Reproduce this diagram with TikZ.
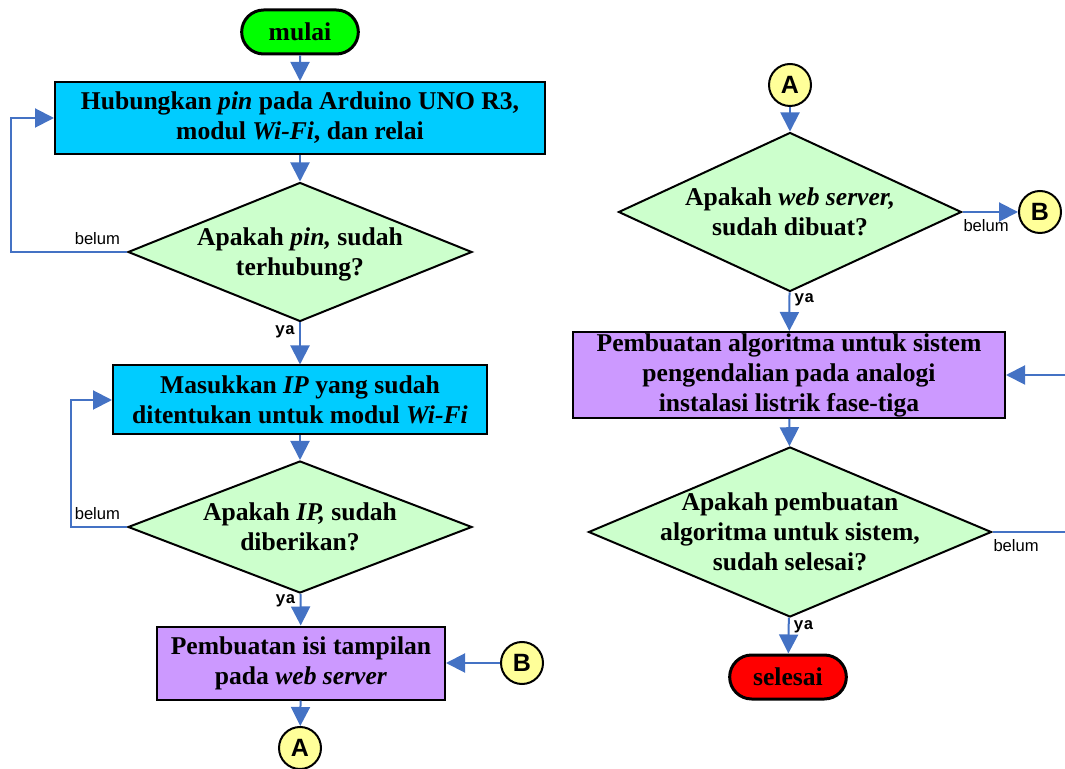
\documentclass[tikz,border=0pt]{standalone}
\usepackage{fontspec}
\setmainfont{Liberation Serif}
\newfontfamily\belumfont{Liberation Sans}
\newfontfamily\yafont{Liberation Mono}
\usepackage{tikz}
\usetikzlibrary{arrows.meta,shapes.geometric,shapes.misc}

\definecolor{mulaigreen}{HTML}{00FF00}
\definecolor{selesaired}{HTML}{FF0000}
\definecolor{boxcyan}{HTML}{00CCFF}
\definecolor{boxpurple}{HTML}{CC99FF}
\definecolor{askgreen}{HTML}{CCFFCC}
\definecolor{linkyellow}{HTML}{FFFF99}
\definecolor{flowblue}{HTML}{4472C4}

\begin{document}
\begin{tikzpicture}[x=0.5pt,y=-0.5pt,
	every node/.style={align=center,font=\fontsize{12.8}{15}\selectfont\bfseries},
	terminal/.style={rounded rectangle,draw,line width=1.5pt,minimum width=65pt,minimum height=22pt},
	process/.style={rectangle,draw,line width=1pt,inner sep=0pt},
	decision/.style={diamond,draw,line width=1pt,fill=askgreen,inner sep=0pt},
	link/.style={circle,draw,line width=1pt,fill=linkyellow,minimum size=21pt,inner sep=0pt,font=\belumfont\bfseries\fontsize{12.5}{12.5}\selectfont},
	flow/.style={draw=flowblue,line width=1pt,-{Triangle[length=9.5pt,width=9.5pt]}},
	yalabel/.style={font=\yafont\bfseries\fontsize{8.3}{8.3}\selectfont,inner sep=2pt},
	belumlabel/.style={font=\belumfont\fontsize{8.3}{8.3}\selectfont,inner sep=3pt}]
	\useasboundingbox (0,0) rectangle (1065,769);

	% kolom kiri
	\node[terminal,fill=mulaigreen] (mulai) at (300,32) {mulai};
	\node[process,fill=boxcyan,minimum width=245pt,minimum height=36pt] (hubung) at (300,118) {Hubungkan \textit{pin} pada Arduino UNO R3,\\modul \textit{Wi-Fi}, dan relai};
	\node[decision,minimum width=172pt,minimum height=69.5pt] (cekpin) at (300,252) {};
	\node (cekpintxt) at ([yshift=-1pt]cekpin) {Apakah \textit{pin,} sudah\\terhubung?};
	\node[process,fill=boxcyan,minimum width=187pt,minimum height=34.5pt] (ip) at (300,400) {Masukkan \textit{IP} yang sudah\\ditentukan untuk modul \textit{Wi-Fi}};
	\node[decision,minimum width=172pt,minimum height=66pt] (cekip) at (300,527) {};
	\node (cekiptxt) at (cekip) {Apakah \textit{IP,} sudah\\diberikan?};
	\node[process,fill=boxpurple,minimum width=144pt,minimum height=36.5pt] (tampilan) at (301,663) {Pembuatan isi tampilan\\pada \textit{web server}};
	\node[link] (keB) at (522,663) {B};
	\node[link] (keA) at (300,748) {A};

	% kolom kanan
	\node[link] (dariA) at (790,85) {A};
	\node[decision,minimum width=171.5pt,minimum height=79.5pt] (cekweb) at (790,212) {};
	\node (cekwebtxt) at (cekweb) {Apakah \textit{web server,}\\sudah dibuat?};
	\node[link] (dariB) at (1040,212) {B};
	\node[process,fill=boxpurple,minimum width=216pt,minimum height=43pt] (algo) at (789,375) {Pembuatan algoritma untuk sistem\\pengendalian pada analogi\\instalasi listrik fase-tiga};
	\node[decision,minimum width=201.5pt,minimum height=85pt] (cekalgo) at (790,532) {};
	\node (cekalgotxt) at (cekalgo) {Apakah pembuatan\\algoritma untuk sistem,\\sudah selesai?};
	\node[terminal,fill=selesaired] (selesai) at (788,677) {selesai};

	\draw[flow] (mulai) -- (hubung);
	\draw[flow] (hubung) -- (cekpin);
	\draw[flow] (cekpin) -- node[yalabel,pos=0.22,left] {ya} (ip);
	\draw[flow] (cekpin.west) node[belumlabel,anchor=south east] {belum} -| ([xshift=-21.5pt]hubung.west) -- (hubung.west);
	\draw[flow] (ip) -- (cekip);
	\draw[flow] (cekip) -- node[yalabel,pos=0.22,left] {ya} (tampilan);
	\draw[flow] (cekip.west) node[belumlabel,anchor=south east] {belum} -| ([xshift=-20.5pt]ip.west) -- (ip.west);
	\draw[flow] (keB) -- (tampilan);
	\draw[flow] (tampilan) -- (keA);

	\draw[flow] (dariA) -- (cekweb);
	\draw[flow] (cekweb.east) node[belumlabel,anchor=north west,xshift=-3pt] {belum} -- (dariB);
	\draw[flow] (cekweb) -- node[yalabel,pos=0.2,right] {ya} (algo);
	\draw[flow] (algo) -- (cekalgo);
	\draw[flow] (cekalgo) -- node[yalabel,pos=0.25,right] {ya} (selesai);
	\draw[flow] (cekalgo.east) node[belumlabel,anchor=north west,xshift=-3pt] {belum} -| ([xshift=33pt]algo.east) -- (algo.east);
\end{tikzpicture}
\end{document}
